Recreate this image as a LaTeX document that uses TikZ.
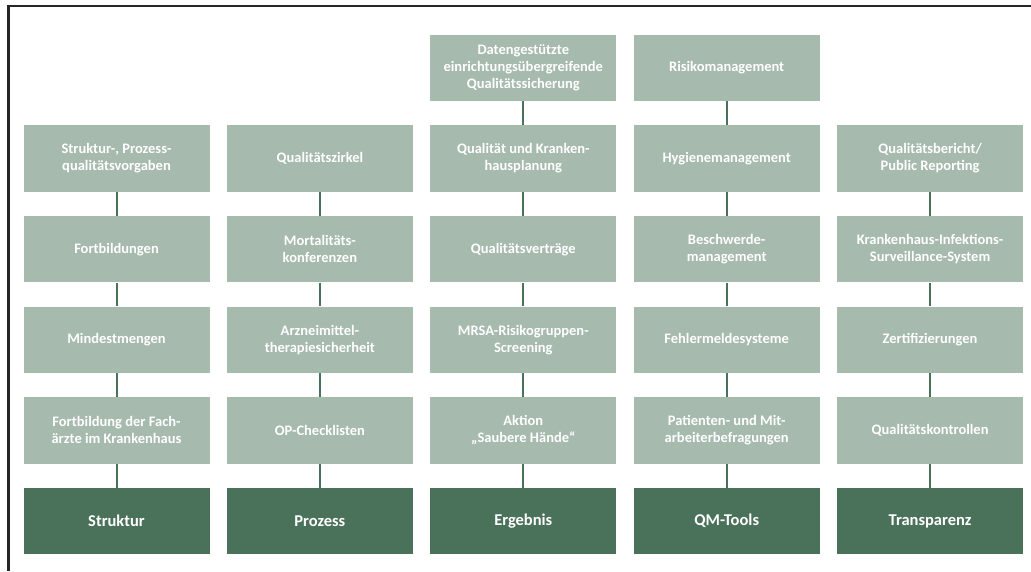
\documentclass[tikz,border=0pt]{standalone}
\usepackage{fontspec}
\setmainfont{Carlito}
\definecolor{lightgreen}{HTML}{A6BAAD}
\definecolor{darkgreen}{HTML}{4A7159}
\definecolor{framegrey}{HTML}{262626}
\tikzset{
  itembox/.style={fill=lightgreen, text=white, font=\bfseries\fontsize{14.5}{17}\selectfont, align=center, minimum width=186pt, minimum height=66.5pt, inner sep=0pt},
  basebox/.style={fill=darkgreen, text=white, font=\bfseries\fontsize{16.5}{19}\selectfont, align=center, minimum width=186pt, minimum height=66.5pt, inner sep=0pt},
  link/.style={draw=darkgreen, line width=2pt},
  frameline/.style={draw=framegrey, line width=2.5pt}
}
\begin{document}
\begin{tikzpicture}[x=1pt,y=-1pt]
\useasboundingbox (0,0) rectangle (1031,571);
\draw[frameline] (8.5,571) -- (8.5,6) -- (1031,6);
% column 1
\node[itembox] (a1) at (116.5,158.6) {Struktur-, Prozess-\\qualitätsvorgaben};
\node[itembox] (a2) at (116.5,249.2) {Fortbildungen};
\node[itembox] (a3) at (116.5,339.8) {Mindestmengen};
\node[itembox] (a4) at (116.5,430.4) {Fortbildung der Fach-\\ärzte im Krankenhaus};
\node[basebox] (a5) at (116.5,521) {Struktur};
% column 2
\node[itembox] (b1) at (319.9,158.6) {Qualitätszirkel};
\node[itembox] (b2) at (319.9,249.2) {Mortalitäts-\\konferenzen};
\node[itembox] (b3) at (319.9,339.8) {Arzneimittel-\\therapiesicherheit};
\node[itembox] (b4) at (319.9,430.4) {OP-Checklisten};
\node[basebox] (b5) at (319.9,521) {Prozess};
% column 3
\node[itembox] (c0) at (523.3,68) {Datengestützte\\einrichtungsübergreifende\\Qualitätssicherung};
\node[itembox] (c1) at (523.3,158.6) {Qualität und Kranken-\\hausplanung};
\node[itembox] (c2) at (523.3,249.2) {Qualitätsverträge};
\node[itembox] (c3) at (523.3,339.8) {MRSA-Risikogruppen-\\Screening};
\node[itembox] (c4) at (523.3,430.4) {Aktion\\„Saubere Hände“};
\node[basebox] (c5) at (523.3,521) {Ergebnis};
% column 4
\node[itembox] (d0) at (726.7,68) {Risikomanagement};
\node[itembox] (d1) at (726.7,158.6) {Hygienemanagement};
\node[itembox] (d2) at (726.7,249.2) {Beschwerde-\\management};
\node[itembox] (d3) at (726.7,339.8) {Fehlermeldesysteme};
\node[itembox] (d4) at (726.7,430.4) {Patienten- und Mit-\\arbeiterbefragungen};
\node[basebox] (d5) at (726.7,521) {QM-Tools};
% column 5
\node[itembox] (e1) at (930.1,158.6) {Qualitätsbericht/\\Public Reporting};
\node[itembox] (e2) at (930.1,249.2) {Krankenhaus-Infektions-\\Surveillance-System};
\node[itembox] (e3) at (930.1,339.8) {Zertifizierungen};
\node[itembox] (e4) at (930.1,430.4) {Qualitätskontrollen};
\node[basebox] (e5) at (930.1,521) {Transparenz};
% connectors
\foreach \c in {a,b,e}{
  \foreach \i/\j in {1/2,2/3,3/4,4/5}{
    \draw[link] (\c\i.south) -- (\c\j.north);
  }
}
\foreach \c in {c,d}{
  \foreach \i/\j in {0/1,1/2,2/3,3/4,4/5}{
    \draw[link] (\c\i.south) -- (\c\j.north);
  }
}
\end{tikzpicture}
\end{document}
